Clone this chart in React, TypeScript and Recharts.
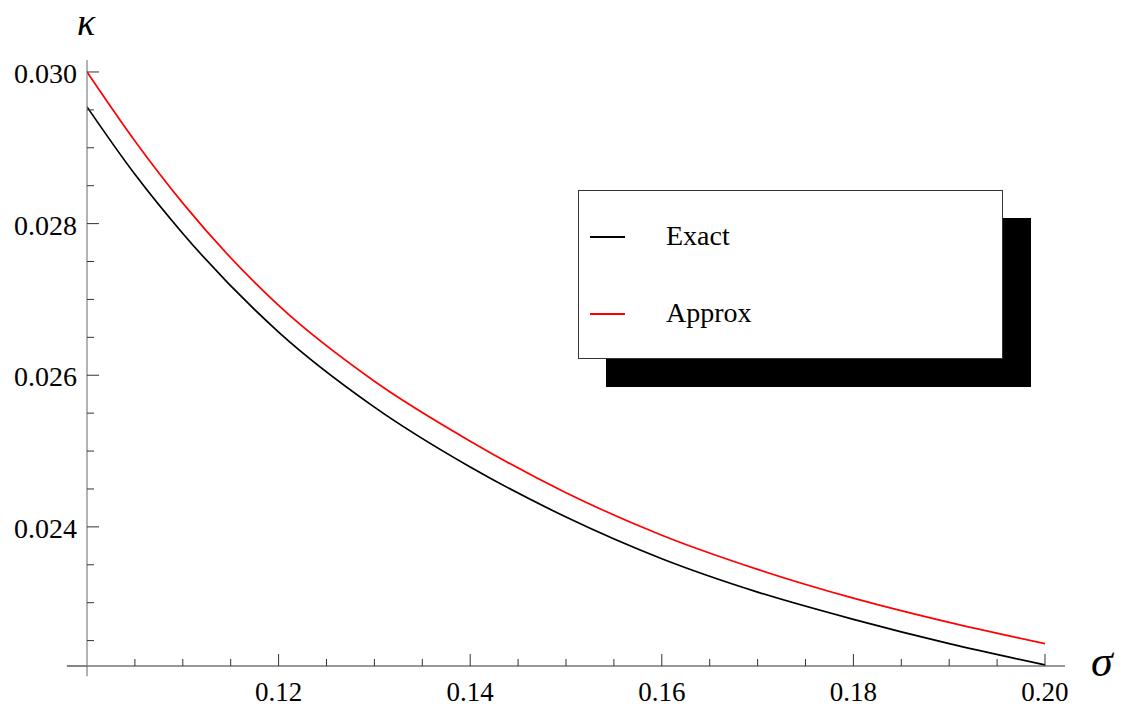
import React from 'react';
import { LineChart, Line, XAxis, YAxis, Legend, ReferenceLine, Label } from 'recharts';

const sigma = [0.1, 0.105, 0.11, 0.12, 0.13, 0.14, 0.15, 0.16, 0.17, 0.18, 0.19, 0.2];
const exact = [0.02954, 0.02865, 0.02787, 0.02657, 0.02558, 0.02479, 0.02413, 0.02358, 0.02314, 0.02278, 0.02246, 0.02218];
const approx = [0.03, 0.02909, 0.02827, 0.02692, 0.02592, 0.02513, 0.02445, 0.02389, 0.02344, 0.02306, 0.02274, 0.02246];
const seriesNames = ['Exact', 'Approx'];
const seriesColors = ['#000000', '#ff0000'];

const xTicks = [0.105, 0.11, 0.115, 0.12, 0.125, 0.13, 0.135, 0.14, 0.145, 0.15, 0.155, 0.16, 0.165, 0.17, 0.175, 0.18, 0.185, 0.19, 0.195, 0.2];
const xLabels = [0.12, 0.14, 0.16, 0.18, 0.2];
const yTicks = [0.0225, 0.023, 0.0235, 0.024, 0.0245, 0.025, 0.0255, 0.026, 0.0265, 0.027, 0.0275, 0.028, 0.0285, 0.029, 0.0295, 0.03];
const yLabels = [0.024, 0.026, 0.028, 0.03];

const xDomain = [0.1, 0.202088];
const yDomain = [0.022165, 0.030158];

const data = sigma.map((s, i) => ({ s, Exact: exact[i], Approx: approx[i] }));

const FONT = '"Liberation Serif", "Times New Roman", serif';

const isLabel = (v: number, arr: number[]) => arr.some((a) => Math.abs(a - v) < 1e-9);

const XTick = (props: any) => {
  const { x, y, payload } = props;
  const major = isLabel(payload.value, xLabels);
  return (
    <g>
      <line x1={x} y1={y} x2={x} y2={y - (major ? 12 : 7)} stroke="#333" strokeWidth={1} />
      {major && (
        <text x={x} y={y + 35} textAnchor="middle" fontFamily={FONT} fontSize={27} fill="#000">
          {payload.value.toFixed(2)}
        </text>
      )}
    </g>
  );
};

const YTick = (props: any) => {
  const { x, y, payload } = props;
  const major = isLabel(payload.value, yLabels);
  return (
    <g>
      <line x1={x} y1={y} x2={x + (major ? 12 : 7)} y2={y} stroke="#333" strokeWidth={1} />
      {major && (
        <text x={x - 10} y={y + 11} textAnchor="end" fontFamily={FONT} fontSize={28} fill="#000">
          {payload.value.toFixed(3)}
        </text>
      )}
    </g>
  );
};

const KappaLabel = (props: any) => {
  const vb = props.viewBox || {};
  return (
    <text x={vb.x + vb.width - 1} y={vb.y - 25} textAnchor="middle" fontFamily={FONT} fontStyle="italic" fontSize={38} fill="#000">
      κ
    </text>
  );
};

const SigmaLabel = (props: any) => {
  const vb = props.viewBox || {};
  return (
    <text x={vb.x + vb.width + 26} y={vb.y + 10} textAnchor="start" fontFamily={FONT} fontStyle="italic" fontSize={44} fill="#000">
      σ
    </text>
  );
};

const LegendBox = (props: any) => {
  const payload = [...(props.payload || [])].sort(
    (a: any, b: any) => seriesNames.indexOf(a.value) - seriesNames.indexOf(b.value)
  );
  const rows = [236, 313];
  return (
    <div
      style={{
        position: 'relative',
        width: 423,
        height: 167,
        background: '#fff',
        border: '1px solid #333',
        boxShadow: '28px 28px 0 0 #000',
        fontFamily: FONT,
      }}
    >
      {payload.map((p: any, i: number) => {
        const idx = seriesNames.indexOf(p.value);
        const color = seriesColors[idx >= 0 ? idx : i];
        return (
          <div key={String(p.value)}>
            <div
              style={{
                position: 'absolute',
                left: 11,
                top: rows[i] - 191,
                width: 35,
                height: 2,
                background: color,
              }}
            />
            <div
              style={{
                position: 'absolute',
                left: 87,
                top: rows[i] - 191 - 18,
                fontSize: 28,
                lineHeight: '36px',
                color: '#000',
                whiteSpace: 'nowrap',
              }}
            >
              {p.value}
            </div>
          </div>
        );
      })}
    </div>
  );
};

export default function App() {
  return (
    <div style={{ position: 'absolute', left: 0, top: 0, width: 1127, height: 706, background: '#fff' }}>
      <LineChart width={1127} height={706} data={data} margin={{ top: 60, right: 62, bottom: 0, left: 0 }}>
        <XAxis
          type="number"
          dataKey="s"
          domain={xDomain}
          allowDataOverflow
          ticks={xTicks}
          interval={0}
          height={40}
          tickSize={0}
          tickMargin={0}
          tickLine={false}
          tick={<XTick />}
          axisLine={{ stroke: '#333', strokeWidth: 1.2 }}
        >
          <Label content={<SigmaLabel />} />
        </XAxis>
        <YAxis
          type="number"
          domain={yDomain}
          allowDataOverflow
          ticks={yTicks}
          interval={0}
          width={87}
          tickSize={0}
          tickMargin={0}
          tickLine={false}
          tick={<YTick />}
          axisLine={{ stroke: '#808080', strokeWidth: 1.2 }}
        >
          <Label content={<KappaLabel />} />
        </YAxis>
        <ReferenceLine
          segment={[{ x: 0.0979, y: 0.022165 }, { x: 0.1, y: 0.022165 }]}
          stroke="#333"
          strokeWidth={1.2}
          ifOverflow="visible"
        />
        <ReferenceLine
          segment={[{ x: 0.1, y: 0.022165 }, { x: 0.1, y: 0.02203 }]}
          stroke="#808080"
          strokeWidth={1.2}
          ifOverflow="visible"
        />
        <Line type="monotone" dataKey="Exact" name="Exact" stroke={seriesColors[0]} strokeWidth={1.7} dot={false} isAnimationActive={false} />
        <Line type="monotone" dataKey="Approx" name="Approx" stroke={seriesColors[1]} strokeWidth={1.7} dot={false} isAnimationActive={false} />
        <Legend
          layout="vertical"
          align="center"
          verticalAlign="middle"
          content={<LegendBox />}
          wrapperStyle={{ left: 578, top: 190, width: 425, height: 169 }}
        />
      </LineChart>
    </div>
  );
}
